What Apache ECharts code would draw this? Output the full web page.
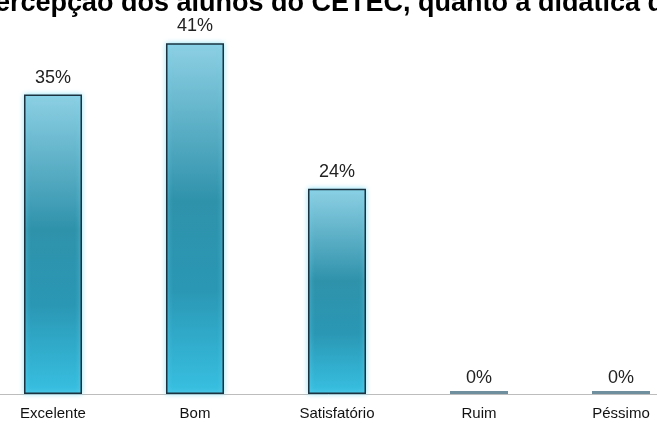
<!DOCTYPE html>
<html>
<head>
<meta charset="utf-8">
<style>
  html, body { margin: 0; padding: 0; background: #fff; }
  #chart { width: 657px; height: 423px; }
</style>
<script src="https://cdn.jsdelivr.net/npm/echarts@6/dist/echarts.min.js"></script>
</head>
<body>
<div id="chart"></div>
<script>
// Categories and percentages
const categories = ['Excelente', 'Bom', 'Satisfatório', 'Ruim', 'Péssimo'];
const percentages = [35, 41, 24, 0, 0];
const titleText = 'Percepção dos alunos do CETEC, quanto à didática dos professores';

const chart = echarts.init(document.getElementById('chart'), null, { renderer: 'canvas' });

const barGradient = new echarts.graphic.LinearGradient(0, 0, 0, 1, [
  { offset: 0, color: '#8dd0e4' },
  { offset: 0.45, color: '#2f92ab' },
  { offset: 0.7, color: '#2a97b4' },
  { offset: 1, color: '#38c0e2' }
]);

// Non-zero bars get the gradient body; empty categories show a thin flat stub
const seriesData = percentages.map(v => v > 0 ? {
  value: v,
  itemStyle: {
    color: barGradient,
    borderColor: '#1b3340',
    borderWidth: 1.5,
    shadowColor: 'rgba(120,220,245,0.9)',
    shadowBlur: 5
  }
} : {
  value: v,
  itemStyle: { color: '#6f8e9e', borderWidth: 0 },
  label: { distance: 4 }
});

chart.setOption({
  animation: false,
  title: {
    text: titleText,
    left: -23,
    top: -10,
    padding: 0,
    textStyle: {
      fontFamily: 'Liberation Sans, Arial, sans-serif',
      fontSize: 27,
      fontWeight: 'bold',
      color: '#000'
    }
  },
  grid: {
    left: -18, right: -35, top: 9, bottom: 29,
    containLabel: false,
    outerBoundsMode: 'none'
  },
  xAxis: {
    type: 'category',
    data: categories,
    axisLine: { lineStyle: { color: '#bdbdbd', width: 1 } },
    axisTick: { show: false },
    axisLabel: {
      margin: 12,
      fontFamily: 'Liberation Sans, Arial, sans-serif',
      fontSize: 15,
      color: '#111'
    }
  },
  yAxis: {
    type: 'value',
    min: 0,
    max: 45,
    show: false,
    splitLine: { show: false }
  },
  series: [{
    type: 'bar',
    data: seriesData,
    barWidth: 58,
    barMinHeight: 3,
    label: {
      show: true,
      position: 'top',
      distance: 8,
      formatter: p => p.value + '%',
      fontFamily: 'Liberation Sans, Arial, sans-serif',
      fontSize: 18,
      color: '#222'
    }
  }]
});
</script>
</body>
</html>
